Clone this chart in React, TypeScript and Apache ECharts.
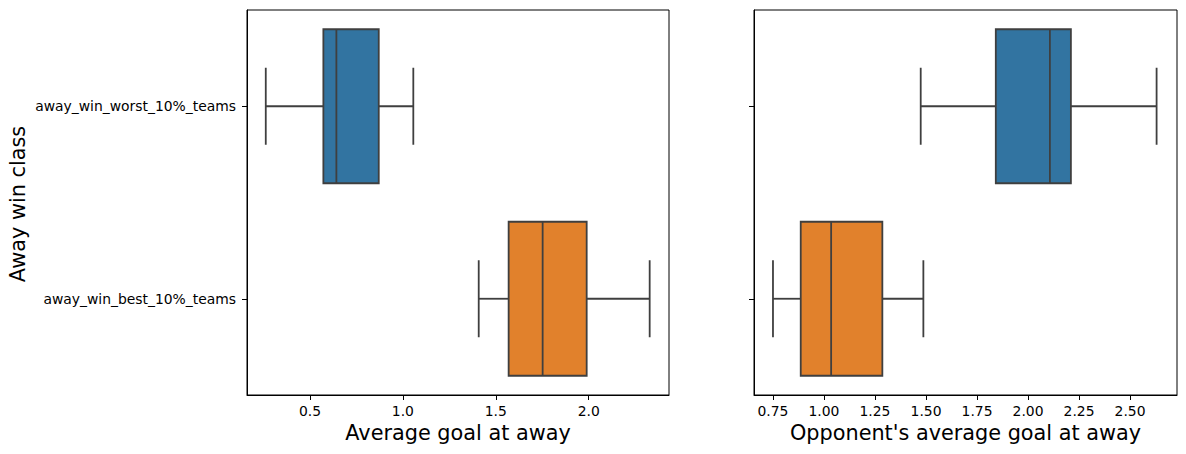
import React, { useEffect, useRef } from "react";
import * as echarts from "echarts";

const categories = ["away_win_worst_10%_teams", "away_win_best_10%_teams"];
// [low whisker, Q1, median, Q3, high whisker]
const goalStats = [
  [0.262, 0.572, 0.642, 0.87, 1.056],
  [1.408, 1.569, 1.752, 1.989, 2.328],
];
const oppStats = [
  [1.474, 1.842, 2.107, 2.21, 2.63],
  [0.75, 0.886, 1.035, 1.286, 1.487],
];
const boxColors = ["#3274a1", "#e1812c"];
const goalTicks = [0.5, 1.0, 1.5, 2.0];
const oppTicks = [0.75, 1.0, 1.25, 1.5, 1.75, 2.0, 2.25, 2.5];
const goalTitle = "Average goal at away";
const oppTitle = "Opponent's average goal at away";
const yTitle = "Away win class";

const FONT = "DejaVu Sans";
const LINE = "#3f3f3f";

function renderBox(params: any, api: any) {
  const cat = api.value(0);
  const lo = api.coord([api.value(1), cat]);
  const q1 = api.coord([api.value(2), cat]);
  const med = api.coord([api.value(3), cat]);
  const q3 = api.coord([api.value(4), cat]);
  const hi = api.coord([api.value(5), cat]);
  const band = api.size([0, 1])[1];
  const half = band * 0.4;
  const cap = band * 0.2;
  const cy = lo[1];
  const ls = { stroke: LINE, lineWidth: 1.8 };
  return {
    type: "group",
    children: [
      { type: "line", shape: { x1: lo[0], y1: cy, x2: q1[0], y2: cy }, style: ls },
      { type: "line", shape: { x1: q3[0], y1: cy, x2: hi[0], y2: cy }, style: ls },
      { type: "line", shape: { x1: lo[0], y1: cy - cap, x2: lo[0], y2: cy + cap }, style: ls },
      { type: "line", shape: { x1: hi[0], y1: cy - cap, x2: hi[0], y2: cy + cap }, style: ls },
      {
        type: "rect",
        shape: { x: q1[0], y: cy - half, width: q3[0] - q1[0], height: half * 2 },
        style: { fill: boxColors[cat], stroke: LINE, lineWidth: 1.8 },
      },
      { type: "line", shape: { x1: med[0], y1: cy - half, x2: med[0], y2: cy + half }, style: ls },
    ],
  };
}

function toRows(stats: number[][]) {
  return stats.map((s, i) => [i, ...s]);
}

export default function App() {
  const ref = useRef<HTMLDivElement>(null);
  useEffect(() => {
    if (!ref.current) return;
    const chart = echarts.init(ref.current, null, { renderer: "svg" });
    const xAxisBase = (min: number, max: number, ticks: number[], digits: number, name: string, gi: number) => ({
      type: "value",
      gridIndex: gi,
      min,
      max,
      name,
      nameLocation: "middle",
      nameGap: 24,
      nameTextStyle: { fontFamily: FONT, fontSize: 20.8, color: "#000" },
      axisLine: { show: true, lineStyle: { color: "#000", width: 1 } },
      axisTick: { show: true, length: 5, lineStyle: { color: "#000", width: 1 }, customValues: ticks },
      axisLabel: {
        show: true,
        margin: 9,
        fontFamily: FONT,
        fontSize: 13.9,
        color: "#000",
        customValues: ticks,
        formatter: (v: number) => v.toFixed(digits),
      },
      splitLine: { show: false },
    });
    const yAxisBase = (gi: number, showLabel: boolean) => ({
      type: "category",
      gridIndex: gi,
      data: categories,
      inverse: true,
      axisLine: { show: true, lineStyle: { color: "#000", width: 1 } },
      axisTick: { show: true, alignWithLabel: true, length: 5, lineStyle: { color: "#000", width: 1 } },
      axisLabel: { show: showLabel, margin: 11, fontFamily: FONT, fontSize: 13.9, color: "#000" },
      splitLine: { show: false },
    });
    chart.setOption({
      animation: false,
      backgroundColor: "#fff",
      grid: [
        { left: 247, top: 10, width: 422, height: 385, show: true, borderColor: "#000", borderWidth: 1, backgroundColor: "transparent" },
        { left: 754, top: 10, width: 423, height: 385, show: true, borderColor: "#000", borderWidth: 1, backgroundColor: "transparent" },
      ],
      xAxis: [
        xAxisBase(0.161, 2.432, goalTicks, 1, goalTitle, 0),
        xAxisBase(0.657, 2.73, oppTicks, 2, oppTitle, 1),
      ],
      yAxis: [yAxisBase(0, true), yAxisBase(1, false)],
      graphic: [
        {
          type: "text",
          x: 17.5,
          y: 204,
          rotation: Math.PI / 2,
          style: {
            text: yTitle,
            fontFamily: FONT,
            fontSize: 20.8,
            fill: "#000",
            align: "center",
            verticalAlign: "middle",
          },
        },
      ],
      series: [
        {
          type: "custom",
          xAxisIndex: 0,
          yAxisIndex: 0,
          renderItem: renderBox,
          encode: { x: [1, 2, 3, 4, 5], y: 0 },
          data: toRows(goalStats),
        },
        {
          type: "custom",
          xAxisIndex: 1,
          yAxisIndex: 1,
          renderItem: renderBox,
          encode: { x: [1, 2, 3, 4, 5], y: 0 },
          data: toRows(oppStats),
        },
      ],
    });
    return () => chart.dispose();
  }, []);
  return <div ref={ref} style={{ position: "fixed", left: 0, top: 0, width: 1186, height: 454 }} />;
}
